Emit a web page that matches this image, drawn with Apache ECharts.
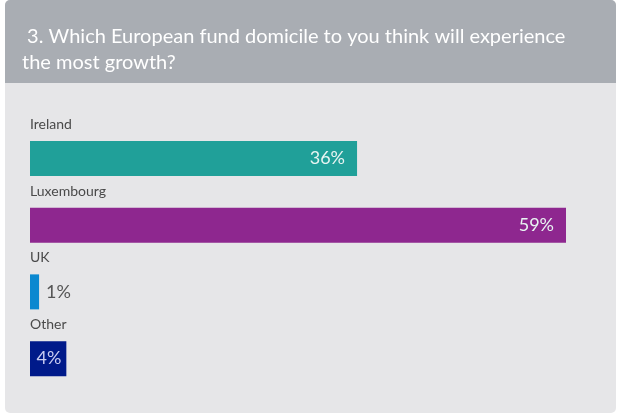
<!DOCTYPE html>
<html>
<head>
<meta charset="utf-8">
<script src="https://cdn.jsdelivr.net/npm/echarts@6/dist/echarts.min.js"></script>
<style>
  html, body { margin: 0; padding: 0; background: #ffffff; }
  #chart { width: 617px; height: 415px; }
</style>
</head>
<body>
<div id="chart"></div>
<script>
// Survey question and answers
const questionTitle = ' 3. Which European fund domicile to you think will experience\nthe most growth?';
const categories = ['Ireland', 'Luxembourg', 'UK', 'Other'];
const shares = [36, 59, 1, 4];
const barColors = ['#20a099', '#8e278f', '#0a88d0', '#001a8a'];

const FONT = 'Lato, "Open Sans", sans-serif';

const chart = echarts.init(document.getElementById('chart'), null, { renderer: 'canvas' });

// Bars too thin to hold their label get it placed just outside
const seriesData = shares.map((v, i) => {
  const item = { value: v, itemStyle: { color: barColors[i] } };
  if (v < 2) {
    item.label = { position: 'right', distance: 7, color: '#555555' };
  } else if (v < 10) {
    item.label = { position: 'insideRight', distance: 5, color: '#c9cdf2' };
  }
  return item;
});

chart.setOption({
  animation: false,
  backgroundColor: '#ffffff',
  graphic: [
    { type: 'rect', silent: true, z: -10,
      shape: { x: 5, y: 0, width: 611, height: 413, r: 5 },
      style: { fill: '#e6e6e8' } },
    { type: 'rect', silent: true, z: -9,
      shape: { x: 5, y: 0, width: 611, height: 83, r: [5, 5, 0, 0] },
      style: { fill: '#a9adb3' } }
  ],
  title: {
    text: questionTitle,
    left: 17,
    top: 19,
    textStyle: {
      color: '#ffffff',
      fontFamily: FONT,
      fontSize: 20,
      fontWeight: 'normal',
      lineHeight: 26
    }
  },
  grid: { left: 30, right: 51, top: 125, height: 267 },
  xAxis: {
    type: 'value',
    min: 0,
    max: 59,
    show: false
  },
  yAxis: {
    type: 'category',
    inverse: true,
    data: categories,
    axisLine: { show: false },
    axisTick: { show: false },
    splitLine: { show: false },
    axisLabel: {
      inside: true,
      interval: 0,
      showMinLabel: true,
      showMaxLabel: true,
      hideOverlap: false,
      margin: 0,
      color: '#4a4a4a',
      fontFamily: FONT,
      fontSize: 14,
      verticalAlign: 'bottom',
      lineHeight: 68
    }
  },
  series: [{
    type: 'bar',
    barWidth: 35,
    data: seriesData,
    label: {
      show: true,
      position: 'insideRight',
      distance: 12,
      color: '#e8f4f2',
      fontFamily: FONT,
      fontSize: 18,
      formatter: p => p.value + '%'
    }
  }]
});
</script>
</body>
</html>
